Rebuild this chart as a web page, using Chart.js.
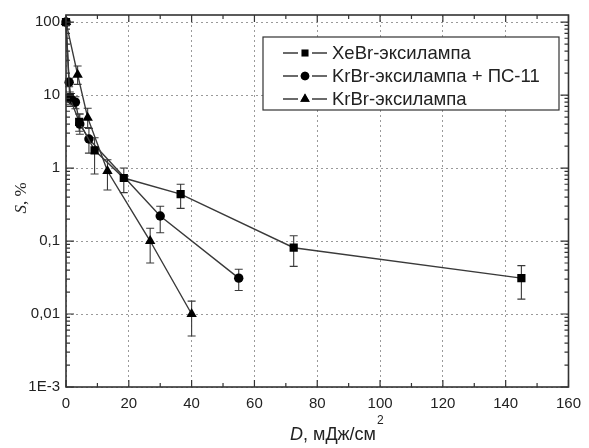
<!DOCTYPE html>
<html>
<head>
<meta charset="utf-8">
<script src="https://cdn.jsdelivr.net/npm/chart.js@4/dist/chart.umd.min.js"></script>
<style>
  html, body { margin: 0; padding: 0; background: #fff; }
  #wrap { width: 589px; height: 448px; }
</style>
</head>
<body>
<div id="wrap"><canvas id="myChart" width="589" height="448"></canvas></div>
<script>
// XeBr-эксилампа (squares)
const xeX  = [0, 1.2, 4.2, 9.1, 18.4, 36.5, 72.5, 145];
const xeY  = [100, 9.2, 4.3, 1.75, 0.73, 0.44, 0.081, 0.031];
const xeHi = [100, 11, 5.5, 2.6, 1.0, 0.6, 0.118, 0.046];
const xeLo = [100, 7.5, 3.2, 0.83, 0.46, 0.28, 0.045, 0.016];

// KrBr-эксилампа + ПС-11 (circles)
const psX  = [0, 1, 1.6, 3, 4.4, 7.3, 30, 55];
const psY  = [100, 15, 8.8, 8, 4, 2.5, 0.22, 0.031];
const psHi = [100, 17, 10.5, 9.5, 5.5, 3.5, 0.3, 0.041];
const psLo = [100, 13, 7, 6.5, 2.9, 1.6, 0.13, 0.021];

// KrBr-эксилампа (triangles)
const krX  = [0, 3.7, 6.9, 13.2, 26.8, 40];
const krY  = [100, 19, 4.9, 0.91, 0.1, 0.01];
const krHi = [100, 25, 6.6, 1.3, 0.15, 0.015];
const krLo = [100, 14, 3.6, 0.5, 0.05, 0.005];

const labels = ["XeBr-эксилампа", "KrBr-эксилампа + ПС-11", "KrBr-эксилампа"];
const styles = ["rect", "circle", "triangle"];

const yTickValues = [0.001, 0.01, 0.1, 1, 10, 100];
const yTickLabels = ["1E-3", "0,01", "0,1", "1", "10", "100"];
const xTickLabels = ["0", "20", "40", "60", "80", "100", "120", "140", "160"];

const FONT = '"Liberation Sans", Arial, sans-serif';
const LINE = "#3a3a3a";

const toPoints = (xs, ys) => xs.map((x, i) => ({ x: x, y: ys[i] }));
const errs = [[xeLo, xeHi], [psLo, psHi], [krLo, krHi]];

const mkSet = (i, xs, ys) => ({
  label: labels[i],
  data: toPoints(xs, ys),
  borderColor: LINE,
  borderWidth: 1.4,
  backgroundColor: "#000",
  pointBackgroundColor: "#000",
  pointBorderColor: "#000",
  pointBorderWidth: 0,
  pointStyle: styles[i],
  pointRadius: styles[i] === "rect" ? 5.8 : (styles[i] === "triangle" ? 6 : 4.7),
  tension: 0,
  clip: 8,
});

const isMajorY = v => yTickValues.some(t => Math.abs(Math.log10(v) - Math.log10(t)) < 1e-6);

const errorBars = {
  id: "errorBars",
  beforeDatasetsDraw(chart) {
    const c = chart.ctx, xs = chart.scales.x, ys = chart.scales.y;
    c.save();
    c.strokeStyle = LINE;
    c.lineWidth = 1.1;
    chart.data.datasets.forEach((ds, di) => {
      const [lo, hi] = errs[di];
      ds.data.forEach((p, i) => {
        if (lo[i] === hi[i]) return;
        const px = xs.getPixelForValue(p.x);
        const y1 = ys.getPixelForValue(hi[i]);
        const y2 = ys.getPixelForValue(lo[i]);
        c.beginPath();
        c.moveTo(px, y1); c.lineTo(px, y2);
        c.moveTo(px - 4, y1); c.lineTo(px + 4, y1);
        c.moveTo(px - 4, y2); c.lineTo(px + 4, y2);
        c.stroke();
      });
    });
    c.restore();
  }
};

const frame = {
  id: "frame",
  afterDraw(chart) {
    const c = chart.ctx, a = chart.chartArea;
    const xs = chart.scales.x, ys = chart.scales.y;
    c.save();
    c.strokeStyle = "#333";
    c.lineWidth = 1.6;
    c.strokeRect(a.left, a.top, a.right - a.left, a.bottom - a.top);
    c.lineWidth = 1.2;
    c.beginPath();
    ys.ticks.forEach(t => {
      const py = ys.getPixelForValue(t.value);
      const len = isMajorY(t.value) ? 8 : 4;
      c.moveTo(a.left, py); c.lineTo(a.left + len, py);
      c.moveTo(a.right, py); c.lineTo(a.right - len, py);
    });
    xs.ticks.forEach(t => {
      const px = xs.getPixelForValue(t.value);
      const len = t.value % 20 === 0 ? 7 : 4;
      c.moveTo(px, a.bottom); c.lineTo(px, a.bottom - len);
      c.moveTo(px, a.top); c.lineTo(px, a.top + len);
    });
    c.stroke();

    // legend
    const bx = 263, by = 37, bw = 296, bh = 73;
    c.fillStyle = "#fff";
    c.fillRect(bx, by, bw, bh);
    c.lineWidth = 1.2;
    c.strokeRect(bx, by, bw, bh);
    const rows = [53, 76, 99];
    chart.data.datasets.forEach((ds, i) => {
      const y = rows[i];
      c.strokeStyle = LINE;
      c.lineWidth = 1.4;
      c.beginPath();
      c.moveTo(283, y); c.lineTo(298, y);
      c.moveTo(312, y); c.lineTo(327, y);
      c.stroke();
      Chart.helpers.drawPoint(c, {
        pointStyle: styles[i],
        radius: styles[i] === "rect" ? 5 : (styles[i] === "triangle" ? 5.5 : 4.3),
        borderWidth: 0,
        rotation: 0
      }, 305, y);
      c.fillStyle = "#000";
      c.fill();
      c.fillStyle = "#222";
      c.font = "18.5px " + FONT;
      c.textBaseline = "middle";
      c.textAlign = "left";
      c.fillText(ds.label, 332, y + 1);
    });

    // axis titles
    c.fillStyle = "#222";
    c.textBaseline = "alphabetic";
    c.font = "italic 18px " + FONT;
    const dW = c.measureText("D").width;
    c.font = "18px " + FONT;
    const restW = c.measureText(", мДж/см").width;
    const x0 = 290;
    c.font = "italic 18px " + FONT;
    c.fillText("D", x0, 440);
    c.font = "18px " + FONT;
    c.fillText(", мДж/см", x0 + dW, 440);
    c.font = "12px " + FONT;
    c.fillText("2", x0 + dW + restW + 1, 424);

    c.translate(26, 198);
    c.rotate(-Math.PI / 2);
    c.font = "italic 17px 'Liberation Serif', 'Times New Roman', serif";
    const sW = c.measureText("S").width;
    c.font = "17px 'Liberation Serif', 'Times New Roman', serif";
    const pW = c.measureText(", %").width;
    const sx = -(sW + pW) / 2;
    c.font = "italic 17px 'Liberation Serif', 'Times New Roman', serif";
    c.fillText("S", sx, 0);
    c.font = "17px 'Liberation Serif', 'Times New Roman', serif";
    c.fillText(", %", sx + sW, 0);
    c.restore();
  }
};

const ctx = document.getElementById("myChart").getContext("2d");
new Chart(ctx, {
  type: "line",
  data: {
    datasets: [
      mkSet(0, xeX, xeY),
      mkSet(1, psX, psY),
      mkSet(2, krX, krY),
    ],
  },
  options: {
    responsive: false,
    animation: false,
    layout: { padding: { left: 0, right: 12, top: 13, bottom: 0 } },
    plugins: { legend: { display: false }, tooltip: { enabled: false } },
    scales: {
      x: {
        type: "linear",
        min: 0,
        max: 160,
        afterBuildTicks: s => {
          const t = [];
          for (let v = 0; v <= 160; v += 10) t.push({ value: v });
          s.ticks = t;
        },
        afterFit: s => { s.height = 61; },
        ticks: {
          autoSkip: false,
          maxRotation: 0,
          padding: 8,
          color: "#222",
          font: { family: FONT, size: 15 },
          callback: v => (v % 20 === 0 ? xTickLabels[v / 20] : ""),
        },
        grid: {
          drawTicks: false,
          lineWidth: 1,
          color: c => (c.tick && c.tick.value % 20 === 0 ? "#9a9a9a" : "rgba(0,0,0,0)"),
        },
        border: { display: false, dash: [2, 3] },
      },
      y: {
        type: "logarithmic",
        min: 0.001,
        max: 125,
        afterBuildTicks: s => {
          const t = [];
          yTickValues.forEach(d => {
            for (let m = 1; m <= 9; m++) {
              const v = d * m;
              if (v <= 100 + 1e-9) t.push({ value: v });
            }
          });
          s.ticks = t;
        },
        afterFit: s => { s.width = 66; },
        ticks: {
          autoSkip: false,
          padding: 6,
          color: "#222",
          font: { family: FONT, size: 15 },
          callback: v => {
            const i = yTickValues.findIndex(t => Math.abs(Math.log10(v) - Math.log10(t)) < 1e-6);
            return i >= 0 ? yTickLabels[i] : "";
          },
        },
        grid: {
          drawTicks: false,
          lineWidth: 1,
          color: c => (c.tick && isMajorY(c.tick.value) ? "#9a9a9a" : "rgba(0,0,0,0)"),
        },
        border: { display: false, dash: [2, 3] },
      },
    },
  },
  plugins: [errorBars, frame],
});
</script>
</body>
</html>
